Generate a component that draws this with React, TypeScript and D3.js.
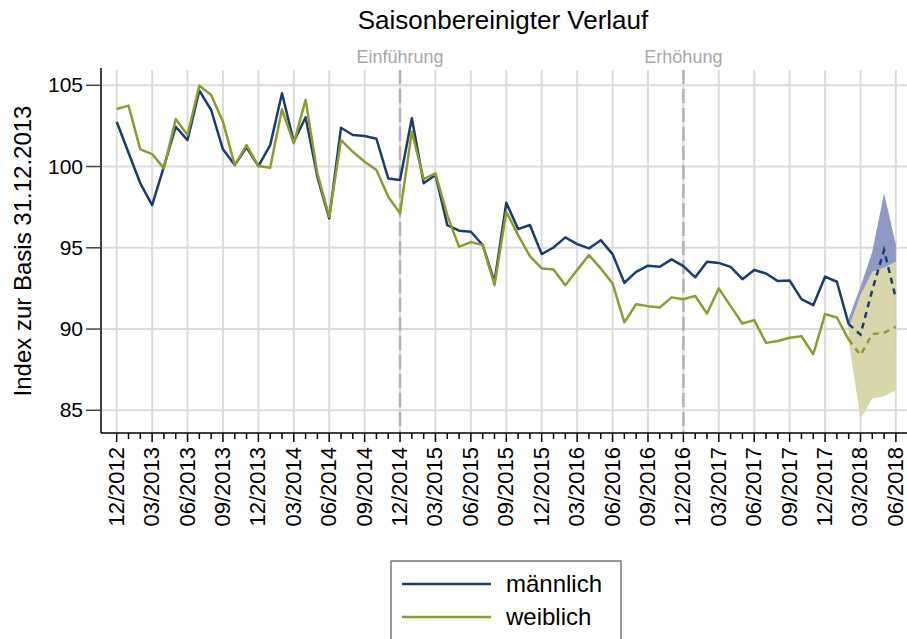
import React from 'react';
import * as d3 from 'd3';

// Monatswerte ab 12/2012 (Index 0) bis 02/2018 (Index 62)
const maennlich = [
  102.76, 100.85, 98.97, 97.63, 99.99, 102.45, 101.63, 104.67, 103.48, 101.06,
  100.09, 101.18, 100.03, 101.32, 104.51, 101.53, 103.03, 99.37, 96.81, 102.39,
  101.94, 101.88, 101.71, 99.27, 99.17, 102.97, 98.97, 99.48, 96.4, 96.05,
  95.99, 95.17, 92.91, 97.77, 96.15, 96.4, 94.61, 95.02, 95.64, 95.23,
  94.96, 95.47, 94.61, 92.85, 93.52, 93.9, 93.83, 94.29, 93.87, 93.18,
  94.14, 94.07, 93.83, 93.07, 93.63, 93.42, 92.95, 92.99, 91.84, 91.47,
  93.22, 92.91, 90.3,
];
const weiblich = [
  103.54, 103.75, 101.06, 100.77, 99.89, 102.92, 101.94, 104.98, 104.4, 102.76,
  100.09, 101.32, 100.03, 99.93, 103.52, 101.43, 104.1, 99.58, 96.91, 101.63,
  100.91, 100.3, 99.79, 98.14, 97.12, 102.14, 99.23, 99.58, 97.01, 95.06,
  95.35, 95.17, 92.7, 97.22, 95.78, 94.49, 93.73, 93.67, 92.7, 93.63,
  94.55, 93.73, 92.81, 90.41, 91.53, 91.41, 91.33, 91.95, 91.84, 92.03,
  90.96, 92.5, 91.41, 90.34, 90.55, 89.15, 89.26, 89.46, 89.56, 88.45,
  90.92, 90.71, 89.35,
];

// Prognose 02/2018 - 06/2018
const prognoseStart = 62;
const maennlichPrognose = [90.3, 89.66, 92.4, 94.86, 91.88];
const maennlichOben = [90.65, 92.6, 94.75, 98.35, 95.17];
const maennlichUnten = [90.0, 86.7, 90.05, 91.37, 88.5];
const weiblichPrognose = [89.35, 88.4, 89.69, 89.77, 90.14];
const weiblichOben = [90.1, 92.09, 93.52, 93.79, 94.14];
const weiblichUnten = [89.3, 84.5, 85.73, 85.87, 86.24];

const tickLabels = [
  '12/2012', '03/2013', '06/2013', '09/2013', '12/2013', '03/2014', '06/2014',
  '09/2014', '12/2014', '03/2015', '06/2015', '09/2015', '12/2015', '03/2016',
  '06/2016', '09/2016', '12/2016', '03/2017', '06/2017', '09/2017', '12/2017',
  '03/2018', '06/2018',
];
const yTicks = [85, 90, 95, 100, 105];
const referenzen = [
  { label: 'Einführung', monat: 24 },
  { label: 'Erhöhung', monat: 48 },
];

const navy = '#1a3d6e';
const olive = '#8e9a32';
const font = '"Liberation Sans", Arial, sans-serif';

export default function App() {
  const left = 101, right = 907, top = 70, bottom = 433;
  const x = d3.scaleLinear().domain([0, 66]).range([116.7, 895.9]);
  const y = d3.scaleLinear().domain([85, 105]).range([410.3, 85.3]);

  const line = d3.line<number>().x((_, i) => x(i)).y((d) => y(d));
  const prLine = d3.line<number>().x((_, i) => x(prognoseStart + i)).y((d) => y(d));
  const band = (lo: number[], hi: number[]) =>
    d3.area<number>()
      .x((_, i) => x(prognoseStart + i))
      .y0((_, i) => y(lo[i]))
      .y1((d) => y(d))(hi) as string;

  const months = d3.range(0, 67);

  return (
    <svg width={907} height={639} style={{ position: 'absolute', left: 0, top: 0, background: '#fff' }} fontFamily={font}>
      <text x={503} y={29} textAnchor="middle" fontSize={26} fill="#000">Saisonbereinigter Verlauf</text>

      {/* Gitter */}
      {yTicks.map((t) => (
        <line key={'h' + t} x1={left} x2={right} y1={y(t)} y2={y(t)} stroke="#dcdcdc" strokeWidth={2} />
      ))}
      {tickLabels.map((_, k) => (
        <line key={'v' + k} x1={x(k * 3)} x2={x(k * 3)} y1={top} y2={bottom} stroke="#dcdcdc" strokeWidth={2} />
      ))}
      {referenzen.map((r) => (
        <g key={r.label}>
          <line x1={x(r.monat)} x2={x(r.monat)} y1={top} y2={bottom} stroke="#b2b2b2" strokeWidth={2.5} strokeDasharray="14,5" />
          <text x={x(r.monat)} y={63} textAnchor="middle" fontSize={18} fill="#a8a8a8">{r.label}</text>
        </g>
      ))}

      {/* Konfidenzbänder */}
      <path d={band(maennlichUnten, maennlichOben)} fill="#8f99c3" />
      <path d={band(weiblichUnten, weiblichOben)} fill="#d8d6aa" />

      {/* Linien */}
      <path d={line(maennlich) as string} fill="none" stroke={navy} strokeWidth={2.5} strokeLinejoin="round" />
      <path d={line(weiblich) as string} fill="none" stroke={olive} strokeWidth={2.5} strokeLinejoin="round" />
      <path d={prLine(maennlichPrognose) as string} fill="none" stroke={navy} strokeWidth={2.5} strokeDasharray="6,5" />
      <path d={prLine(weiblichPrognose) as string} fill="none" stroke={olive} strokeWidth={2.5} strokeDasharray="6,5" />

      {/* Achsen */}
      <line x1={left} x2={left} y1={top - 2} y2={bottom} stroke="#000" strokeWidth={1.5} />
      <line x1={left} x2={right} y1={bottom} y2={bottom} stroke="#000" strokeWidth={1.5} />
      {yTicks.map((t) => (
        <g key={'yt' + t}>
          <line x1={left - 15} x2={left} y1={y(t)} y2={y(t)} stroke="#444" strokeWidth={1.5} />
          <text x={left - 18} y={y(t) + 7} textAnchor="end" fontSize={21} fill="#000">{t}</text>
        </g>
      ))}
      {months.map((m) => (
        <line key={'mt' + m} x1={x(m)} x2={x(m)} y1={bottom} y2={bottom + (m % 3 === 0 ? 9 : 6)} stroke="#000" strokeWidth={1.5} />
      ))}
      {tickLabels.map((l, k) => (
        <text key={l} transform={`translate(${x(k * 3) + 7},${bottom + 14}) rotate(-90)`} textAnchor="end" fontSize={22} fill="#000">{l}</text>
      ))}
      <text transform={`translate(31,${251}) rotate(-90)`} textAnchor="middle" fontSize={24} fill="#000">Index zur Basis 31.12.2013</text>

      {/* Legende */}
      <rect x={391} y={561} width={230} height={90} fill="#fff" stroke="#555" strokeWidth={1.2} />
      <line x1={402} x2={491} y1={584} y2={584} stroke={navy} strokeWidth={2.5} />
      <text x={506} y={592} fontSize={24} fill="#000">männlich</text>
      <line x1={402} x2={491} y1={617} y2={617} stroke={olive} strokeWidth={2.5} />
      <text x={506} y={625} fontSize={24} fill="#000">weiblich</text>
    </svg>
  );
}
